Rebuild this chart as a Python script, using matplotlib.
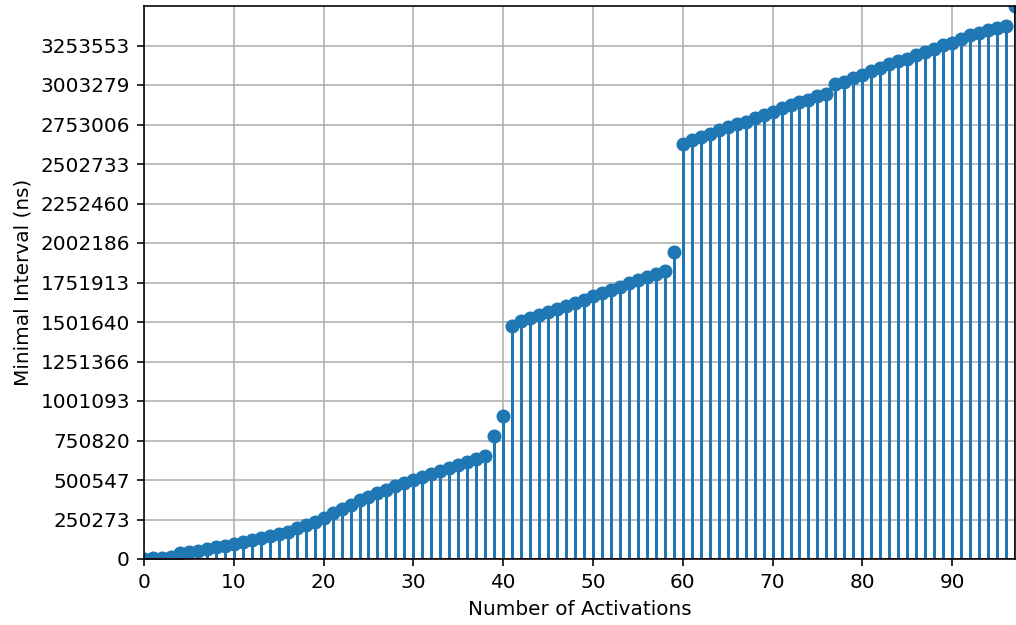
import numpy as np
import matplotlib
matplotlib.use('Agg')
import matplotlib.pyplot as plt

# minimal interval (ns) for each number of activations 0..97
activations = list(range(98))
min_interval = [
    2000, 4000, 6000, 13000, 35000, 42000, 53000, 63000, 74000, 85000,
    97000, 110000, 122000, 134000, 146000, 160000, 174000, 197000, 215000, 236000,
    257000, 292000, 318000, 344000, 372000, 396000, 418000, 440000, 464000, 480000,
    503000, 518000, 537000, 560000, 575000, 598000, 613000, 632000, 651000, 777000,
    904000, 1479000, 1506000, 1525000, 1544000, 1565000, 1582000, 1601000, 1624000, 1643000,
    1664000, 1683000, 1704000, 1725000, 1746000, 1768000, 1784000, 1806000, 1822000, 1947000,
    2631000, 2654000, 2673000, 2694000, 2716000, 2737000, 2754000, 2772000, 2793000, 2812000,
    2832000, 2858000, 2876000, 2893000, 2909000, 2931000, 2948000, 3007000, 3025000, 3046000,
    3066000, 3090000, 3112000, 3134000, 3154000, 3171000, 3192000, 3213000, 3234000, 3255000,
    3272000, 3293000, 3323000, 3335000, 3351000, 3364000, 3377000, 3503826,
]

dpi = 144
fig, ax = plt.subplots(figsize=(1016 / dpi, 625 / dpi), dpi=dpi)
fig.subplots_adjust(left=144 / 1016, right=1015 / 1016, top=1 - 6 / 625, bottom=1 - 559 / 625)

ax.stem(activations, min_interval)

ymax = max(min_interval)
yticks = np.linspace(0, ymax, 15)[:-1]
ax.set_yticks(yticks)
ax.set_yticklabels([str(int(round(t))) for t in yticks])
ax.set_xticks(np.arange(0, len(activations), 10))
ax.set_xlim(0, len(activations) - 1)
ax.set_ylim(0, ymax)
ax.grid(True)
ax.set_axisbelow(True)

ax.set_xlabel('Number of Activations')
ax.set_ylabel('Minimal Interval (ns)')

fig.savefig('out.png', dpi=dpi)
